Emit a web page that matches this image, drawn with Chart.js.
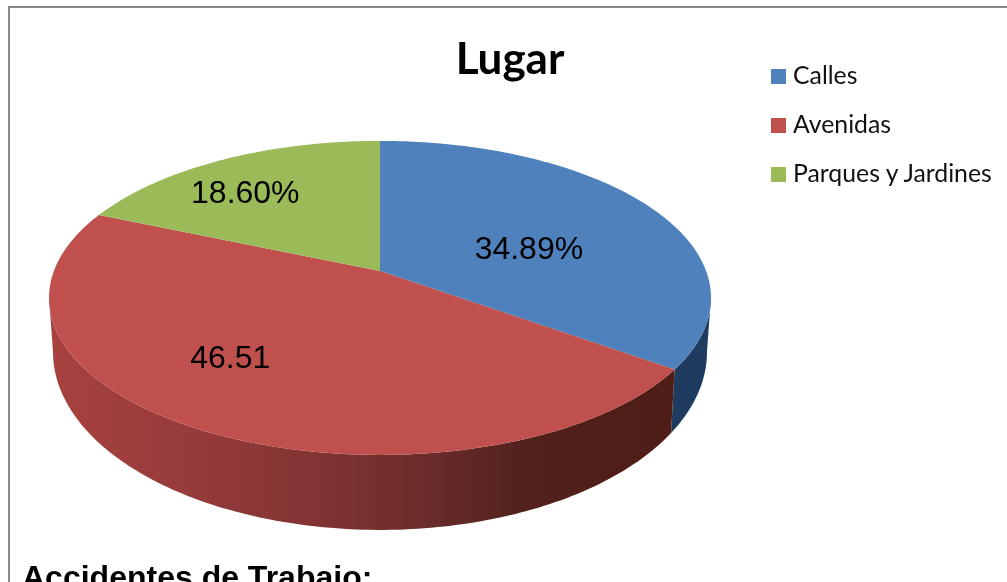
<!DOCTYPE html>
<html>
<head>
<meta charset="utf-8">
<title>Lugar</title>
<script src="https://cdn.jsdelivr.net/npm/chart.js@4"></script>
<style>
    html, body { margin: 0; padding: 0; width: 1007px; height: 582px; overflow: hidden; background: #fff; }
    #frame { position: absolute; left: 8px; top: 6px; width: 1100px; height: 700px; border: 2px solid #8a8a8a; }
    #chartBox { position: absolute; left: 0; top: 0; width: 1007px; height: 582px; }
    #legend { position: absolute; left: 771px; top: 50px; font: 24.8px Lato, sans-serif; color: #111; }
    #legend div { height: 49px; line-height: 49px; white-space: nowrap; }
    #legend i { display: inline-block; width: 15px; height: 15px; margin-right: 7px; }
    #note { position: absolute; left: 22px; top: 559px; font: bold 32px "Liberation Sans", Arial, sans-serif; color: #000; white-space: nowrap; }
</style>
</head>
<body>
<div id="frame"></div>
<div id="chartBox"><canvas id="pieChart" width="1007" height="582"></canvas></div>
<div id="legend"></div>
<div id="note">Accidentes de Trabajo:</div>

<script>
const chartTitle = 'Lugar';
const categories = ['Calles', 'Avenidas', 'Parques y Jardines'];
const values = [34.89, 46.51, 18.60];
const valueLabels = ['34.89%', '46.51', '18.60%'];
const colors = ['#4f81bd', '#c0504d', '#9bbb59'];

// tilt of the pie, the library only knows flat circles
const squash = 157 / 331;
const centerShift = -0.172;
const wallDrop = 54;
const wallShrinkX = 327 / 331;
const wallShrinkY = 178 / 157;
const labelNudge = [[-4, 16], [-54, 9], [-43, -12]];

function project(el, angle, r) {
    const theta = angle + Math.PI / 2;
    const u = r * Math.sin(theta);
    const v = -r * Math.cos(theta);
    const d = 1 + centerShift * v;
    return {
        X: u * Math.sqrt(1 - centerShift * centerShift) / d,
        Y: (v + centerShift) / d
    };
}

function topPoint(el, p) {
    return [el.x + p.X * el.outerRadius, el.y + p.Y * el.outerRadius * squash];
}

function wallPoint(el, p) {
    return [
        el.x + p.X * el.outerRadius * wallShrinkX,
        el.y + wallDrop + p.Y * el.outerRadius * squash * wallShrinkY
    ];
}

function rimSamples(el) {
    const out = [];
    const steps = Math.ceil((el.endAngle - el.startAngle) * 180 / Math.PI);
    for (let i = 0; i <= steps; i++) {
        out.push(project(el, el.startAngle + (el.endAngle - el.startAngle) * i / steps, 1));
    }
    return out;
}

function wallFill(ctx, el, index) {
    if (index !== 1) return '#1f3c60';
    const g = ctx.createLinearGradient(el.x - el.outerRadius, 0, el.x + el.outerRadius, 0);
    g.addColorStop(0, '#a8423f');
    g.addColorStop(0.25, '#93393a');
    g.addColorStop(0.45, '#7c3230');
    g.addColorStop(0.6, '#652a28');
    g.addColorStop(0.72, '#52211d');
    g.addColorStop(1, '#4e1b14');
    return g;
}

const tiltedPie = {
    id: 'tiltedPie',
    beforeDatasetDraw(chart, args) {
        const ctx = chart.ctx;
        const arcs = chart.getDatasetMeta(args.index).data;
        ctx.save();

        arcs.forEach((el, i) => {
            const front = rimSamples(el).filter(p => p.Y >= -0.01);
            if (front.length < 2) return;
            ctx.beginPath();
            front.forEach(p => ctx.lineTo(...topPoint(el, p)));
            front.reverse().forEach(p => ctx.lineTo(...wallPoint(el, p)));
            ctx.closePath();
            ctx.fillStyle = wallFill(ctx, el, i);
            ctx.fill();
        });

        arcs.forEach((el, i) => {
            ctx.beginPath();
            ctx.moveTo(...topPoint(el, project(el, 0, 0)));
            rimSamples(el).forEach(p => ctx.lineTo(...topPoint(el, p)));
            ctx.closePath();
            ctx.fillStyle = colors[i];
            ctx.fill();
        });

        ctx.restore();
        return false;
    },
    afterDatasetsDraw(chart) {
        const ctx = chart.ctx;
        ctx.save();
        ctx.font = '32px "Liberation Sans", Arial, sans-serif';
        ctx.fillStyle = '#000';
        ctx.textAlign = 'center';
        ctx.textBaseline = 'middle';
        chart.getDatasetMeta(0).data.forEach((el, i) => {
            const mid = (el.startAngle + el.endAngle) / 2;
            const [x, y] = topPoint(el, project(el, mid, 0.55));
            ctx.fillText(valueLabels[i], x + labelNudge[i][0], y + labelNudge[i][1]);
        });
        ctx.restore();
    },
    afterLayout(chart) {
        // title sits right of the pie centre
        chart.titleBlock.left = 300;
        chart.titleBlock.right = 720;
    }
};

document.getElementById('legend').innerHTML = categories
    .map((c, i) => `<div><i style="background:${colors[i]}"></i>${c}</div>`)
    .join('');

new Chart(document.getElementById('pieChart'), {
    type: 'pie',
    data: {
        labels: categories,
        datasets: [{ data: values, backgroundColor: colors, borderWidth: 0 }]
    },
    options: {
        responsive: false,
        animation: false,
        radius: 331,
        layout: { padding: { right: 247, bottom: 72 } },
        plugins: {
            legend: { display: false },
            tooltip: { enabled: false },
            title: {
                display: true,
                text: chartTitle,
                color: '#000',
                font: { family: 'Lato', size: 44, weight: 'bold' },
                padding: { top: 33, bottom: 0 }
            }
        }
    },
    plugins: [tiltedPie]
});
</script>
</body>
</html>
